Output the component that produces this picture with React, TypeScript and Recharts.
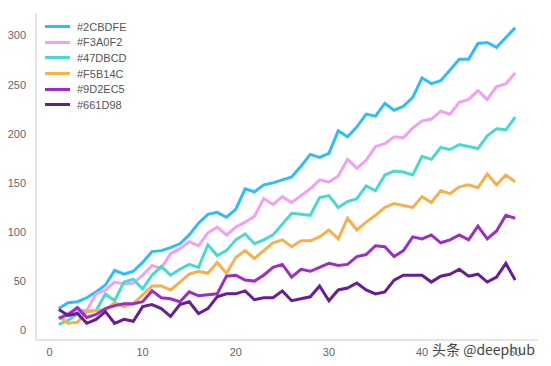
import React from "react";
import { LineChart, Line, XAxis, YAxis } from "recharts";

const xValues = Array.from({ length: 50 }, (_, i) => i + 1);

const s2CBDFE = [22, 28, 29, 33, 39, 46, 61, 57, 60, 69, 80, 81, 84, 88, 97, 109, 118, 120, 115, 123, 144, 141, 148, 150, 153, 156, 167, 179, 176, 180, 203, 197, 207, 220, 218, 231, 224, 228, 237, 257, 251, 254, 265, 276, 276, 292, 293, 288, 298, 308];
const sF3A0F2 = [12, 17, 20, 20, 37, 41, 49, 47, 48, 56, 66, 63, 78, 83, 90, 86, 99, 105, 97, 105, 110, 116, 134, 128, 136, 130, 137, 144, 153, 151, 157, 174, 165, 173, 187, 190, 197, 196, 206, 213, 215, 223, 220, 232, 235, 244, 235, 248, 251, 262];
const s47DBCD = [6, 10, 17, 19, 20, 37, 30, 49, 52, 42, 56, 65, 56, 62, 67, 64, 87, 76, 81, 92, 98, 88, 92, 97, 108, 119, 118, 117, 135, 137, 125, 131, 134, 147, 142, 158, 162, 161, 158, 177, 174, 186, 184, 189, 187, 185, 198, 205, 204, 217];
const sF5B14C = [14, 7, 8, 19, 20, 21, 28, 24, 27, 36, 45, 45, 41, 49, 57, 60, 58, 69, 58, 74, 81, 73, 81, 89, 92, 85, 91, 91, 95, 102, 93, 114, 102, 110, 117, 125, 129, 127, 125, 136, 130, 142, 139, 146, 148, 145, 159, 148, 158, 151];
const s9D2EC5 = [12, 16, 23, 13, 16, 22, 25, 27, 27, 29, 40, 33, 32, 29, 39, 35, 36, 37, 55, 56, 51, 50, 56, 64, 67, 54, 62, 60, 64, 68, 66, 67, 75, 77, 86, 85, 75, 81, 95, 93, 97, 89, 92, 97, 92, 106, 93, 101, 117, 114];
const s661D98 = [21, 15, 17, 7, 11, 19, 7, 11, 9, 24, 26, 22, 14, 26, 29, 17, 22, 34, 37, 37, 40, 31, 33, 33, 40, 30, 32, 34, 45, 30, 41, 43, 48, 41, 37, 39, 51, 56, 56, 56, 49, 55, 57, 62, 55, 57, 49, 54, 68, 51];

const seriesNames = ["#2CBDFE", "#F3A0F2", "#47DBCD", "#F5B14C", "#9D2EC5", "#661D98"];
const seriesValues = [s2CBDFE, sF3A0F2, s47DBCD, sF5B14C, s9D2EC5, s661D98];
const xTicks = [0, 10, 20, 30, 40, 50];
const yTicks = [0, 50, 100, 150, 200, 250, 300];

const data = xValues.map((x, i) => {
  const row: Record<string, number> = { x };
  seriesNames.forEach((n, k) => {
    row[n] = seriesValues[k][i];
  });
  return row;
});

const FONT = "'Liberation Sans', Arial, sans-serif";

export default function App() {
  return (
    <div style={{ position: "absolute", left: 0, top: 0, width: 551, height: 366, background: "#fff" }}>
      <LineChart width={551} height={366} data={data} margin={{ top: 13, right: 13, left: 0, bottom: 0 }}>
        <XAxis
          dataKey="x"
          type="number"
          domain={[-1.45, 52.45]}
          ticks={xTicks}
          tickLine={false}
          axisLine={{ stroke: "#cccccc", strokeWidth: 1 }}
          height={26}
          tick={{ fill: "#666", fontSize: 11, fontFamily: FONT }}
          allowDataOverflow
        />
        <YAxis
          type="number"
          domain={[-10, 323]}
          ticks={yTicks}
          tickLine={false}
          axisLine={{ stroke: "#cccccc", strokeWidth: 1 }}
          width={36}
          tickMargin={4}
          tick={{ fill: "#666", fontSize: 11, fontFamily: FONT }}
          allowDataOverflow
        />
        {seriesNames.map((n) => (
          <Line
            key={n}
            type="linear"
            dataKey={n}
            stroke={n}
            strokeWidth={3}
            dot={false}
            activeDot={false}
            isAnimationActive={false}
          />
        ))}
      </LineChart>
      <div style={{ position: "absolute", left: 45, top: 19, fontFamily: FONT, fontSize: 11, color: "#555" }}>
        {seriesNames.map((n) => (
          <div key={n} style={{ height: 15.6, display: "flex", alignItems: "center" }}>
            <div style={{ width: 25, height: 3, background: n, marginRight: 7 }} />
            <span>{n}</span>
          </div>
        ))}
      </div>
      <div
        style={{
          position: "absolute",
          left: 432,
          top: 339,
          fontFamily: "'Noto Sans CJK SC', sans-serif",
          fontSize: 14,
          color: "#444",
          textShadow: "0 0 2px #fff, 0 0 2px #fff",
          whiteSpace: "nowrap",
        }}
      >
        头条 @deephub
      </div>
    </div>
  );
}
